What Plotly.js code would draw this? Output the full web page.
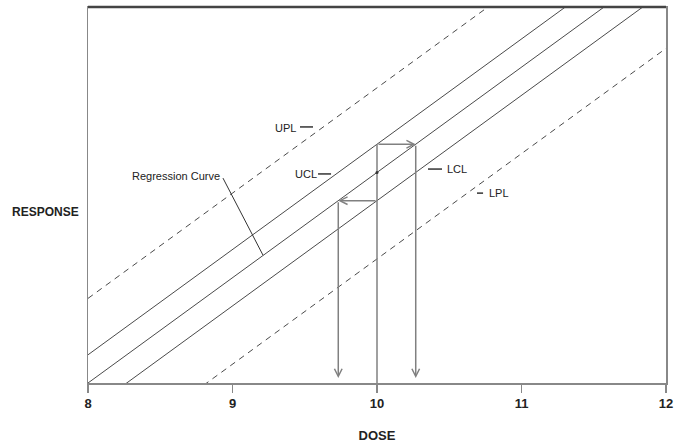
<!DOCTYPE html>
<html>
<head>
<meta charset="utf-8">
<script src="https://cdn.plot.ly/plotly-3.0.1.min.js"></script>
<style>html,body{margin:0;padding:0;background:#fff}#chart{width:680px;height:446px}</style>
</head>
<body>
<div id="chart"></div>
<script>
// ---- data ----
const doseEnds   = [8, 12];
const upl        = [22.5, 134.5];
const ucl        = [7.5, 119.5];
const regression = [0, 112];
const lcl        = [-7.5, 104.5];
const lpl        = [-23, 89];

const xTicks     = [8, 9, 10, 11, 12];
const tickLabels = ['8', '9', '10', '11', '12'];

const targetDose     = 10;
const targetResponse = 56;
const responseAtUcl  = 63.5;
const responseAtLcl  = 48.5;
const doseLow        = 9.732;
const doseHigh       = 10.268;

const labelText = ['UPL', 'UCL', 'LCL', 'LPL', 'Regression Curve'];
const labelX    = [9.370, 9.509, 10.554, 10.844, 8.609];
const labelY    = [67.8, 55.6, 56.9, 50.5, 55.05];
const ptrX0     = [9.467, 9.592, 10.353, 10.692, 8.934];
const ptrX1     = [9.557, 9.682, 10.450, 10.734, 9.211];
const ptrY0     = [68.1, 55.6, 56.9, 50.5, 54.5];
const ptrY1     = [68.1, 55.6, 56.9, 50.5, 34.0];

// ---- styles ----
const FONT = '"Liberation Sans", Arial, sans-serif';
const lineCol = '#4a4a4a';
const arrowCol = '#808080';
const dashed = '6px,5px';

function band(y, dash) {
  return {x: doseEnds, y: y, type: 'scatter', mode: 'lines', hoverinfo: 'skip',
          line: {color: lineCol, width: 1, dash: dash}, showlegend: false};
}

const traces = [
  band(upl, dashed),
  band(ucl, 'solid'),
  band(regression, 'solid'),
  band(lcl, 'solid'),
  band(lpl, dashed),
  {x: [targetDose, targetDose], y: [0, responseAtUcl], type: 'scatter', mode: 'lines',
   line: {color: arrowCol, width: 1.5}, showlegend: false, hoverinfo: 'skip'},
  {x: [targetDose], y: [targetResponse], type: 'scatter', mode: 'markers',
   marker: {color: '#333', size: 3}, showlegend: false, hoverinfo: 'skip'}
];

function arrow(x0, y0, x1, y1) {
  return {x: x1, y: y1, ax: x0, ay: y0, xref: 'x', yref: 'y', axref: 'x', ayref: 'y',
          text: '', showarrow: true, arrowhead: 5, arrowsize: 1, arrowwidth: 1.5,
          arrowcolor: arrowCol, standoff: 0};
}

const annotations = [
  arrow(targetDose, responseAtUcl, doseHigh, responseAtUcl),
  arrow(doseHigh, responseAtUcl, doseHigh, 1.3),
  arrow(targetDose, responseAtLcl, doseLow, responseAtLcl),
  arrow(doseLow, responseAtLcl, doseLow, 1.3),
  {text: 'RESPONSE', xref: 'paper', yref: 'paper', x: -0.074, y: 0.455,
   xanchor: 'center', yanchor: 'middle', showarrow: false,
   font: {family: FONT, size: 12, color: '#222', weight: 700}}
];
labelText.forEach((t, i) => {
  annotations.push({text: t, x: labelX[i], y: labelY[i], xref: 'x', yref: 'y',
    showarrow: false, xanchor: 'center', yanchor: 'middle',
    font: {family: FONT, size: 11, color: '#222'}});
});

const shapes = [
  {type: 'line', xref: 'paper', yref: 'paper', x0: 0, x1: 1, y0: 1, y1: 1,
   line: {color: '#444', width: 2.5}}
];
labelText.forEach((t, i) => {
  shapes.push({type: 'line', xref: 'x', yref: 'y', x0: ptrX0[i], x1: ptrX1[i],
    y0: ptrY0[i], y1: ptrY1[i], line: {color: '#333', width: i < 4 ? 1.5 : 1}});
});

const layout = {
  width: 680, height: 446,
  margin: {l: 88, r: 14, t: 7, b: 63},
  paper_bgcolor: '#fff', plot_bgcolor: '#fff',
  showlegend: false,
  xaxis: {
    range: [8, 12], tickvals: xTicks, ticktext: tickLabels,
    ticks: 'outside', ticklen: 8, tickwidth: 1.5, tickcolor: '#888',
    showline: true, linecolor: '#888', linewidth: 1.5, mirror: true,
    showgrid: false, zeroline: false, fixedrange: true,
    tickfont: {family: FONT, size: 13, color: '#222', weight: 700},
    title: {text: 'DOSE', standoff: 21, font: {family: FONT, size: 13, color: '#222', weight: 700}}
  },
  yaxis: {
    range: [0, 100], showticklabels: false, ticks: '',
    showline: true, linecolor: '#888', linewidth: 1.5, mirror: true,
    showgrid: false, zeroline: false, fixedrange: true
  },
  annotations: annotations,
  shapes: shapes
};

Plotly.newPlot('chart', traces, layout, {displayModeBar: false, staticPlot: true});
</script>
</body>
</html>
